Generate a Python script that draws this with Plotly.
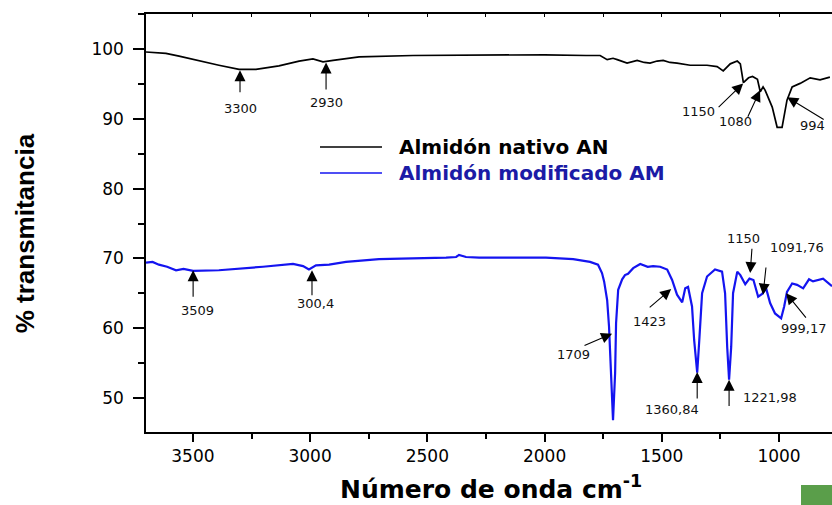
import plotly.graph_objects as go

# ---- data ----
an_wn = [3700, 3615, 3559, 3474, 3389, 3303, 3231, 3133, 3047, 2988, 2945, 2902, 2791, 2561, 2279, 2000,
         1823, 1763, 1733, 1708, 1690, 1648, 1605, 1575, 1550, 1520, 1494, 1465, 1435, 1379, 1307, 1264, 1238,
         1208, 1178, 1165, 1152, 1130, 1113, 1092, 1080, 1068, 1059, 1029, 1008, 987, 966, 944, 910, 867,
         825, 783]
an_t = [99.6, 99.4, 99.0, 98.3, 97.7, 97.1, 97.1, 97.6, 98.3, 98.6, 98.2, 98.4, 98.9, 99.1, 99.2, 99.2,
        99.1, 99.1, 98.5, 98.7, 98.5, 98.0, 98.4, 98.1, 98.0, 98.3, 98.4, 98.1, 98.0, 97.7, 97.7, 97.5, 96.9,
        97.9, 98.3, 97.9, 95.2, 95.9, 96.1, 95.7, 93.9, 94.6, 94.1, 91.7, 88.8, 88.8, 92.7, 94.6, 95.1, 95.9,
        95.6, 96.0]

am_wn = [3700, 3672, 3645, 3610, 3572, 3540, 3499, 3389, 3201, 3073, 3030, 3005, 2975, 2919, 2847, 2706,
         2420, 2377, 2365, 2335, 2279, 1994, 1878, 1806, 1772, 1755, 1746, 1733, 1725, 1716, 1708, 1699,
         1695, 1686, 1669, 1657, 1644, 1622, 1592, 1560, 1537, 1507, 1477, 1456, 1435, 1413, 1400, 1388,
         1371, 1362, 1349, 1340, 1328, 1307, 1273, 1243, 1230, 1221, 1213, 1204, 1196, 1178, 1165, 1144,
         1126, 1109, 1089, 1072, 1055, 1038, 1017, 991, 978, 966, 944, 923, 897, 872, 855, 812, 774]
am_t = [69.4, 69.5, 69.1, 68.8, 68.3, 68.5, 68.2, 68.3, 68.8, 69.2, 68.9, 68.4, 69.0, 69.1, 69.5, 69.9,
        70.1, 70.2, 70.5, 70.2, 70.1, 70.1, 69.9, 69.5, 69.1, 67.9, 66.7, 64.0, 60.2, 53.6, 46.8, 53.6,
        60.7, 65.5, 67.0, 67.6, 67.8, 68.6, 69.2, 68.8, 68.9, 68.8, 68.4, 66.9, 64.8, 63.7, 65.7, 65.9,
        63.1, 58.3, 53.6, 58.3, 65.0, 67.4, 68.4, 68.1, 65.0, 57.3, 52.6, 57.3, 65.0, 68.1, 67.6, 66.3,
        67.1, 66.9, 64.5, 64.9, 65.7, 63.6, 62.1, 61.4, 63.1, 65.2, 66.4, 66.2, 65.7, 67.0, 66.7, 67.1, 66.0]

# peak labels: text, arrow tip (wn, T), arrow tail (wn, T), label (wn, T)
peak_labels = ["3300", "2930", "1150", "1080", "994",
               "3509", "300,4", "1709", "1423", "1360,84", "1221,98", "1150", "1091,76", "999,17"]
tip_wn = [3299, 2932, 1153, 1081, 965, 3499, 2992, 1712, 1460, 1349, 1213, 1123, 1068, 970]
tip_t = [97.0, 98.1, 95.1, 94.1, 93.1, 68.3, 68.3, 59.2, 65.6, 53.7, 52.6, 67.9, 64.8, 65.0]
tail_wn = [3299, 2932, 1264, 1136, 803, 3499, 2992, 1836, 1558, 1349, 1213, 1115, 1055, 880]
tail_t = [93.6, 94.0, 91.5, 90.1, 89.8, 64.3, 64.5, 57.4, 62.8, 49.7, 48.6, 71.6, 68.9, 61.3]
lab_wn = [3299, 2932, 1345, 1187, 859, 3482, 2979, 1878, 1554, 1456, 1038, 1153, 923, 893]
lab_t = [91.5, 92.3, 91.1, 89.7, 89.1, 62.5, 63.6, 56.2, 61.0, 48.3, 50.0, 72.9, 71.5, 59.9]

x_ticks = [3500, 3000, 2500, 2000, 1500, 1000]
y_ticks = [50, 60, 70, 80, 90, 100]

series_names = ["Almidón nativo AN", "Almidón modificado AM"]
line_colors = ["#000000", "#1414f0"]
text_colors = ["#000000", "#1b1ba6"]

fig = go.Figure()
fig.add_trace(go.Scatter(x=an_wn, y=an_t, mode="lines", name=series_names[0],
                         line=dict(color=line_colors[0], width=1.7), showlegend=False))
fig.add_trace(go.Scatter(x=am_wn, y=am_t, mode="lines", name=series_names[1],
                         line=dict(color=line_colors[1], width=2.2), showlegend=False))
# invisible trace for top axis ticks
fig.add_trace(go.Scatter(x=[x_ticks[0]], y=[y_ticks[0]], xaxis="x2", mode="markers",
                         marker=dict(opacity=0), showlegend=False, hoverinfo="skip"))

annos = []
for i, t in enumerate(peak_labels):
    annos.append(dict(x=tip_wn[i], y=tip_t[i], ax=tail_wn[i], ay=tail_t[i], axref="x", ayref="y",
                      xref="x", yref="y", text="", showarrow=True, arrowhead=2, arrowsize=2.0,
                      arrowwidth=1.1, arrowcolor="black"))
    annos.append(dict(x=lab_wn[i], y=lab_t[i], xref="x", yref="y", text=t, showarrow=False,
                      font=dict(family="DejaVu Sans", size=13, color="#111111"),
                      xanchor="center", yanchor="middle"))

# axis titles
annos.append(dict(x=-0.176, y=0.476, xref="paper", yref="paper", text="<b>% transmitancia</b>",
                  textangle=-90, showarrow=False, xanchor="center", yanchor="middle",
                  font=dict(family="Liberation Sans Narrow, Liberation Sans, Arial", size=26, color="black")))
annos.append(dict(x=0.503, y=-0.1316, xref="paper", yref="paper", text="<b>Número de onda cm<sup>-1</sup></b>",
                  showarrow=False, xanchor="center", yanchor="middle",
                  font=dict(family="DejaVu Sans", size=25, color="black")))

# legend
leg_y = [0.6818, 0.6196]
shapes = []
for i in range(2):
    shapes.append(dict(type="line", xref="paper", yref="paper", x0=0.2536, x1=0.344, y0=leg_y[i], y1=leg_y[i],
                       line=dict(color=line_colors[i], width=1.6)))
    annos.append(dict(x=0.3659, y=leg_y[i], xref="paper", yref="paper", text="<b>" + series_names[i] + "</b>",
                      showarrow=False, xanchor="left", yanchor="middle",
                      font=dict(family="DejaVu Sans", size=20, color=text_colors[i])))

# green corner block
shapes.append(dict(type="rect", xref="paper", yref="paper", x0=0.9548, x1=1.0, y0=-0.1746, y1=-0.1268,
                   line=dict(width=0), fillcolor="#5a9e4a"))

fig.update_layout(
    width=832, height=505,
    margin=dict(l=146, r=0, t=14, b=73),
    paper_bgcolor="white", plot_bgcolor="white",
    annotations=annos, shapes=shapes,
    xaxis=dict(range=[3700, 774], tickvals=x_ticks, ticks="outside", ticklen=8, tickwidth=1.5,
               tickcolor="black", showline=True, linecolor="black", linewidth=1.5, mirror=True,
               showgrid=False, zeroline=False,
               tickfont=dict(family="DejaVu Sans", size=17, color="black"),
               minor=dict(dtick=250, tick0=1000, ticks="outside", ticklen=5, tickwidth=1.5, tickcolor="black")),
    xaxis2=dict(range=[3700, 774], overlaying="x", side="top", dtick=250, tick0=1000, ticks="inside",
                ticklen=3, tickwidth=1, tickcolor="black", showticklabels=False, showgrid=False,
                zeroline=False, showline=False),
    yaxis=dict(range=[45.1, 105.05], tickvals=y_ticks, ticks="outside", ticklen=11, tickwidth=1.5,
               tickcolor="black", showline=True, linecolor="black", linewidth=1.5, mirror=False,
               showgrid=False, zeroline=False, ticklabelstandoff=6,
               tickfont=dict(family="DejaVu Sans", size=17, color="black"),
               minor=dict(dtick=5, tick0=45, ticks="outside", ticklen=6, tickwidth=1.5, tickcolor="black")),
)

fig.write_html("out.html")
